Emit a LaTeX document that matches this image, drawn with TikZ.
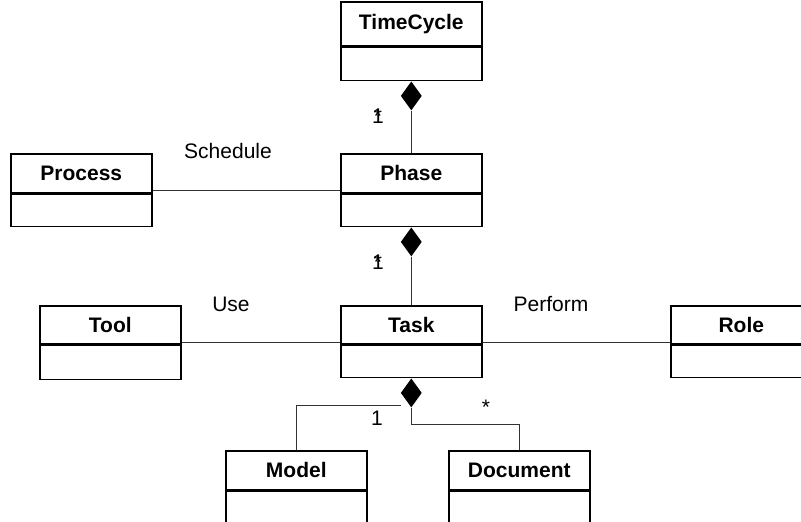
\documentclass[tikz,border=0pt]{standalone}
\usepackage{fontspec}
\setmainfont{Liberation Sans}
\usetikzlibrary{shapes.geometric}

\tikzset{
  classname/.style={draw, line width=1.6pt, minimum width=141pt, minimum height=39pt,
    inner sep=0pt, anchor=north west, font=\bfseries\fontsize{21}{24}\selectfont},
  classbody/.style={draw, line width=1.6pt, minimum width=141pt, minimum height=32pt,
    inner sep=0pt, anchor=north},
  compo/.style={diamond, fill=black, draw=none, inner sep=0pt,
    minimum width=21pt, minimum height=29pt, anchor=north},
  assoc/.style={draw=black!80, line width=1.1pt},
  lbl/.style={font=\fontsize{21}{24}\selectfont, inner sep=0pt, anchor=base},
}

\begin{document}
\begin{tikzpicture}[x=1pt, y=-1pt]
  \clip (0,0) rectangle (801,522);
  \fill[white] (0,0) rectangle (801,522);

  % classes: name compartment + empty attribute compartment
  \node[classname, minimum height=44pt, text depth=4pt] (tc) at (340,1) {TimeCycle};
  \node[classbody, minimum height=33pt] (tcB) at (tc.south) {};

  \node[classname] (phase) at (340,153) {Phase};
  \node[classbody] (phaseB) at (phase.south) {};

  \node[classname] (process) at (10,153) {Process};
  \node[classbody] (processB) at (process.south) {};

  \node[classname, minimum height=38pt] (task) at (340,305) {Task};
  \node[classbody] (taskB) at (task.south) {};

  \node[classname, minimum height=38pt] (tool) at (39,305) {Tool};
  \node[classbody, minimum height=34pt] (toolB) at (tool.south) {};

  \node[classname, minimum height=38pt] (role) at (670,305) {Role};
  \node[classbody] (roleB) at (role.south) {};

  \node[classname] (model) at (225,450) {Model};
  \node[classbody] (modelB) at (model.south) {};

  \node[classname] (document) at (448,450) {Document};
  \node[classbody] (documentB) at (document.south) {};

  % composition diamonds
  \node[compo] (d1) at (tcB.south) {};
  \node[compo] (d2) at (phaseB.south) {};
  \node[compo] (d3) at (taskB.south) {};

  % compositions
  \draw[assoc] (d1.south) -- (phase.north);
  \draw[assoc] (d2.south) -- (task.north);
  \draw[assoc] (model.north) |- ([yshift=-12.5pt]d3.west);
  \draw[assoc] (d3.south) -- ++(0,17) -| (document.north);

  % associations
  \draw[assoc] ([yshift=3pt]process.south east) -- ([yshift=3pt]phase.south west);
  \draw[assoc] ([yshift=2.5pt]tool.south east) -- ([yshift=2.5pt]task.south west);
  \draw[assoc] ([yshift=2.5pt]task.south east) -- ([yshift=2.5pt]role.south west);

  % association names
  \node[lbl] (lschedule) at (228,158) {Schedule};
  \node[lbl] (luse) at (231,311) {Use};
  \node[lbl] (lperform) at (551,311) {Perform};

  % multiplicities
  \node[lbl] (m1a) at (378,123) {1};
  \node[lbl] (m1b) at (378,123) {*};
  \node[lbl] (m2a) at (378,269) {1};
  \node[lbl] (m2b) at (378,269) {*};
  \node[lbl] (m3) at (377,425) {1};
  \node[lbl] (m4) at (486,414) {*};
\end{tikzpicture}
\end{document}
